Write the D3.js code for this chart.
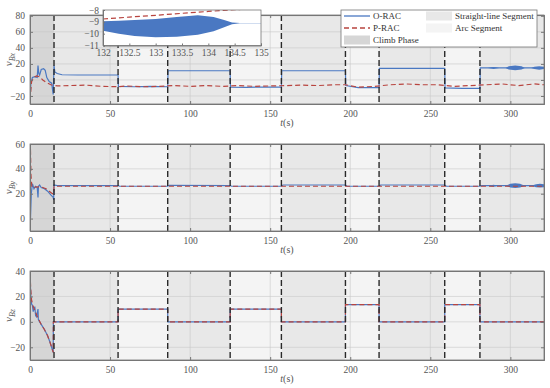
<!DOCTYPE html>
<html lang="en">
<head>
    <meta charset="UTF-8">
    <title>O-RAC vs P-RAC</title>
    <script src="https://d3js.org/d3.v7.min.js"></script>
    <style>
        body { margin: 0; background: #fff; }
        svg, svg text { font-family: "Liberation Serif", "DejaVu Serif", serif !important; }
        .tick text { fill: #555; font-size: 9.5px; }
    </style>
</head>
<body>
<svg id="chart" width="550" height="388"></svg>
<script>
    // segment boundaries (s)
    const tMax = 321;
    const boundaries = [15, 55, 86, 125, 157, 197, 218, 259, 281];
    const segments = [
        { from: 0, to: 15, kind: "climb" },
        { from: 15, to: 55, kind: "straight" },
        { from: 55, to: 86, kind: "arc" },
        { from: 86, to: 125, kind: "straight" },
        { from: 125, to: 157, kind: "arc" },
        { from: 157, to: 197, kind: "straight" },
        { from: 197, to: 218, kind: "arc" },
        { from: 218, to: 259, kind: "straight" },
        { from: 259, to: 281, kind: "arc" },
        { from: 281, to: 321, kind: "straight" }
    ];
    const xTicks = [0, 50, 100, 150, 200, 250, 300];

    // panel 1 : v_Bx
    const oRacX = [[0,-25],[0.5,-5],[1.5,3],[3,4],[4.5,3],[5,18],[5.5,8],[6,6],[7,13],[8.5,14],[9.5,12],[10.5,3],[12,-2],[13.5,-4],[14.5,-18],[15,18],[15.5,10],[17,8],[20,6.5],[30,6.2],[55,6.2],
        [55.2,-8],[65,-8.5],[75,-8],[86,-8.5],[86.2,11.5],[125,11.5],[125.2,-9],[135,-9.2],[145,-8.8],[157,-9],[157.2,11.5],[197,11.5],
        [197.2,-7],[205,-9.5],[218,-9.5],[218.2,14.5],[259,14.5],[259.2,-10],[270,-10.5],[281,-10.5],[281.2,15],[321,15]];
    const pRacX = [[0,-25],[1,-2],[2.5,3],[4,5],[6,4],[8,0],[10,-3],[13,-6],[17,-7.5],[25,-7],[35,-6.5],[45,-8],[55,-8.5],[60,-7.5],[70,-8.5],[80,-8],
        [90,-7],[100,-8],[110,-7],[120,-8],[130,-7],[140,-8],[150,-7.5],[160,-7],[170,-6.5],[180,-7],[190,-6],[197,-6],[205,-9],[215,-8],
        [225,-6],[235,-5],[245,-6],[255,-6],[265,-8],[275,-7],[285,-6],[295,-5],[305,-7],[315,-5],[321,-6]];
    // oscillation envelopes [t, lo, hi]
    const bandX = [
        [[286,15],[288,14.2,15.8],[289.5,13.8,16.2],[291,14.2,15.8],[293,15]],
        [[297,15],[299,13,17],[303,12,18],[307,13,17],[309,15]],
        [[313,15],[315,13.5,16.5],[318,12.8,17.2],[321,13.5,16.5]]
    ];

    // panel 2 : v_By
    const oRacY = [[0,0],[0.3,0],[0.8,20],[1.5,28],[2.5,24],[3.5,26],[4.5,25],[5,17],[5.3,26],[6,27],[7,25],[9,24],[11,22],[13,19],[14.5,17],[14.8,15],
        [15,27],[17,26.5],[55,26.5],[56,26],[86,26],[87,26.8],[125,26.5],[126,26],[157,26],[158,27],[197,27],[198,26],[218,26],[219,27],[259,27],
        [260,26],[281,26],[282,26.5],[321,26.5]];
    const pRacY = [[0,55],[0.3,55],[0.6,35],[1.2,25],[5,25.5],[8,25],[10,24],[12,22],[14,20],[14.8,20],[15,26],[321,26]];
    const bandY = [
        [[286,26.5],[289.5,25.7,27.3],[293,26.5]],
        [[297,26.5],[300,25,28],[303,24.5,28.5],[306,25,28],[309,26.5]],
        [[313,26.5],[316,25.3,27.7],[318.5,25,28],[321,25.3,27.7]]
    ];

    // panel 3 : v_Bz
    const pRacZ = [[0,38],[0.5,25],[1,17],[2,12],[3,9],[5,3],[7,-2],[9,-6],[11,-11],[12.5,-16],[14,-22],[14.5,-24],[14.6,0],[55,0],[55,10],[86,10],
        [86,0],[125,0],[125,10],[157,10],[157,0],[197,0],[197,13.5],[218,13.5],[218,0],[259,0],[259,13.5],[281,13.5],[281,0],[321,0]];
    const oRacZ = [[0,38],[0.5,20],[1,14],[1.5,13],[2,8],[3,12],[3.5,5],[4,4],[5,10],[5.2,2],[6,0],[7,-2],[9,-6],[11,-11],[12.5,-16],[14,-22],[14.5,-24],[14.6,0],[55,0],[55,10],[86,10],
        [86,0],[125,0],[125,10],[157,10],[157,0],[197,0],[197,13.5],[218,13.5],[218,0],[259,0],[259,13.5],[281,13.5],[281,0],[321,0]];

    // inset (zoom of panel 1, 132-135 s)
    const insetXTicks = [132, 132.5, 133, 133.5, 134, 134.5, 135];
    const insetYTicks = [-8, -9, -10, -11];
    const insetBand = [[132,-9.75,-8.95],[132.3,-10.0,-8.9],[132.6,-10.2,-8.85],[133,-10.3,-8.75],[133.4,-10.25,-8.6],[133.8,-10.1,-8.45],
        [134.1,-9.8,-8.6],[134.3,-9.45,-8.85],[134.45,-9.2,-9.05],[134.6,-9.12,-9.1],[135,-9.12,-9.1]];
    const insetRed = [[132,-8.76],[132.5,-8.6],[133,-8.45],[133.5,-8.28],[134,-8.12],[134.5,-7.98],[135,-7.85]];

    const blue = "#4a78c2", red = "#b8443f";
    const fills = { climb: "#d6d6d6", straight: "#e8e8e8", arc: "#f4f4f4" };
    const fmt = d3.format("~g");

    const svg = d3.select("#chart");
    const left = 30, right = 544;
    const x = d3.scaleLinear().domain([0, tMax]).range([left, right]);

    const panels = [
        { top: 15, bottom: 104, domain: [-30, 81], ticks: [-20, 0, 20, 40, 60, 80], sub: "Bx", o: oRacX, p: pRacX, bands: bandX },
        { top: 144, bottom: 231, domain: [-10, 60], ticks: [0, 20, 40, 60], sub: "By", o: oRacY, p: pRacY, bands: bandY },
        { top: 271, bottom: 360, domain: [-30, 40], ticks: [-20, 0, 20, 40], sub: "Bz", o: oRacZ, p: pRacZ, bands: [] }
    ];

    panels.forEach((pn, i) => {
        const y = d3.scaleLinear().domain(pn.domain).range([pn.bottom, pn.top]);
        const g = svg.append("g");
        const clipId = "clip" + i;
        svg.append("clipPath").attr("id", clipId).append("rect")
            .attr("x", left).attr("y", pn.top).attr("width", right - left).attr("height", pn.bottom - pn.top);

        g.selectAll("rect.seg").data(segments).enter().append("rect")
            .attr("class", "seg")
            .attr("x", d => x(d.from)).attr("width", d => x(d.to) - x(d.from))
            .attr("y", pn.top).attr("height", pn.bottom - pn.top)
            .attr("fill", d => fills[d.kind]);

        // grid
        g.selectAll("line.gx").data(xTicks.slice(1)).enter().append("line")
            .attr("x1", d => x(d)).attr("x2", d => x(d)).attr("y1", pn.top).attr("y2", pn.bottom)
            .attr("stroke", "#c8c8c8").attr("stroke-width", 0.6);
        g.selectAll("line.gy").data(pn.ticks).enter().append("line")
            .attr("x1", left).attr("x2", right).attr("y1", d => y(d)).attr("y2", d => y(d))
            .attr("stroke", "#c8c8c8").attr("stroke-width", 0.6);

        const plot = g.append("g").attr("clip-path", `url(#${clipId})`);
        const line = d3.line().x(d => x(d[0])).y(d => y(d[1]));

        plot.append("path").attr("d", line(pn.o)).attr("fill", "none")
            .attr("stroke", blue).attr("stroke-width", 1.2);
        pn.bands.forEach(b => {
            const pts = b.map(d => d.length === 2 ? [d[0], d[1], d[1]] : d);
            plot.append("path")
                .attr("d", d3.area().x(d => x(d[0])).y0(d => y(d[1])).y1(d => y(d[2]))(pts))
                .attr("fill", blue);
        });
        plot.append("path").attr("d", line(pn.p)).attr("fill", "none")
            .attr("stroke", red).attr("stroke-width", 1.2).attr("stroke-dasharray", "5,3");

        // boundary lines
        plot.selectAll("line.bd").data(boundaries).enter().append("line")
            .attr("x1", d => x(d)).attr("x2", d => x(d)).attr("y1", pn.top).attr("y2", pn.bottom)
            .attr("stroke", "#2a2a2a").attr("stroke-width", 1.4).attr("stroke-dasharray", "6,3");

        // axes
        g.append("g").attr("transform", `translate(0,${pn.bottom})`)
            .call(d3.axisBottom(x).tickValues(xTicks).tickSize(-3).tickPadding(6));
        g.append("g").attr("transform", `translate(${left},0)`)
            .call(d3.axisLeft(y).tickValues(pn.ticks).tickSize(-3).tickPadding(5));
        g.append("g").attr("transform", `translate(${right},0)`)
            .call(d3.axisRight(y).tickValues(pn.ticks).tickSize(-3).tickFormat(""));
        g.append("g").attr("transform", `translate(0,${pn.top})`)
            .call(d3.axisTop(x).tickValues(xTicks).tickSize(-3).tickFormat(""));
        g.selectAll(".domain").attr("stroke", "#777");
        g.selectAll(".tick line").attr("stroke", "#777");

        g.append("rect").attr("x", left).attr("y", pn.top).attr("width", right - left)
            .attr("height", pn.bottom - pn.top).attr("fill", "none").attr("stroke", "#777").attr("stroke-width", 0.8);

        // labels
        const xl = g.append("text").attr("x", (left + right) / 2).attr("y", pn.bottom + 22)
            .attr("text-anchor", "middle").attr("font-size", 10).attr("fill", "#555");
        xl.append("tspan").attr("font-style", "italic").text("t");
        xl.append("tspan").text("(s)");

        const yl = g.append("text")
            .attr("transform", `translate(12,${(pn.top + pn.bottom) / 2}) rotate(-90)`)
            .attr("text-anchor", "middle").attr("font-size", 11).attr("fill", "#555");
        yl.append("tspan").attr("font-style", "italic").text("v");
        yl.append("tspan").attr("font-style", "italic").attr("font-size", 8).attr("dy", 3).text(pn.sub);
    });

    // inset
    const ix = d3.scaleLinear().domain([132, 135]).range([103, 261]);
    const iy = d3.scaleLinear().domain([-11, -8]).range([45.5, 10]);
    const ig = svg.append("g");
    svg.append("clipPath").attr("id", "clipInset").append("rect")
        .attr("x", 103).attr("y", 10).attr("width", 158).attr("height", 35.5);
    ig.append("rect").attr("x", 103).attr("y", 10).attr("width", 158).attr("height", 35.5).attr("fill", "#fff");
    const ip = ig.append("g").attr("clip-path", "url(#clipInset)");
    ip.append("path")
        .attr("d", d3.area().x(d => ix(d[0])).y0(d => iy(d[1])).y1(d => iy(d[2]))(insetBand))
        .attr("fill", blue);
    ip.append("path")
        .attr("d", d3.line().x(d => ix(d[0])).y(d => iy(d[1]))(insetRed))
        .attr("fill", "none").attr("stroke", red).attr("stroke-width", 1.2).attr("stroke-dasharray", "5,3");
    ig.append("g").attr("transform", "translate(0,45.5)")
        .call(d3.axisBottom(ix).tickValues(insetXTicks).tickFormat(fmt).tickSize(-2).tickPadding(4));
    ig.append("g").attr("transform", "translate(103,0)")
        .call(d3.axisLeft(iy).tickValues(insetYTicks).tickFormat(fmt).tickSize(-2).tickPadding(4));
    ig.append("rect").attr("x", 103).attr("y", 10).attr("width", 158).attr("height", 35.5)
        .attr("fill", "none").attr("stroke", "#777").attr("stroke-width", 0.8);
    ig.selectAll(".domain").attr("stroke", "#777");
    ig.selectAll(".tick line").attr("stroke", "#777");

    // legend
    const lg = svg.append("g");
    lg.append("rect").attr("x", 341).attr("y", 10).attr("width", 196).attr("height", 37)
        .attr("fill", "#fff").attr("stroke", "#777").attr("stroke-width", 0.8);
    const entries = [
        { label: "O-RAC", type: "line", col: 0, row: 0 },
        { label: "P-RAC", type: "dash", col: 0, row: 1 },
        { label: "Climb Phase", type: "climb", col: 0, row: 2 },
        { label: "Straight-line Segment", type: "straight", col: 1, row: 0 },
        { label: "Arc Segment", type: "arc", col: 1, row: 1 }
    ];
    entries.forEach(e => {
        const x0 = e.col === 0 ? 344 : 426;
        const yc = 16 + e.row * 12;
        if (e.type === "line" || e.type === "dash") {
            lg.append("line").attr("x1", x0).attr("x2", x0 + 26).attr("y1", yc).attr("y2", yc)
                .attr("stroke", e.type === "line" ? blue : red).attr("stroke-width", 1.3)
                .attr("stroke-dasharray", e.type === "dash" ? "5,3" : null);
        } else {
            lg.append("rect").attr("x", x0).attr("y", yc - 4.5).attr("width", 26).attr("height", 9)
                .attr("fill", fills[e.type]);
        }
        lg.append("text").attr("x", x0 + 29).attr("y", yc + 3).attr("font-size", 9)
            .attr("fill", "#333").text(e.label);
    });
</script>
</body>
</html>
